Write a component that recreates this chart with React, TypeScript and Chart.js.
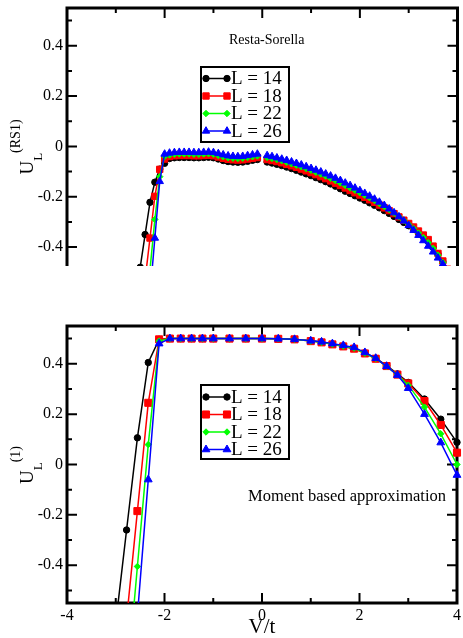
import React, { useEffect, useRef } from "react";
import { Chart, registerables } from "chart.js";
import { drawPoint } from "chart.js/helpers";

Chart.register(...registerables);

const FONT = "'Liberation Serif', 'Times New Roman', serif";

const seriesLabels = ["L = 14", "L = 18", "L = 22", "L = 26"];
const seriesColors = ["#000000", "#ff0000", "#00ff00", "#0000ff"];
const seriesMarkers = ["circle", "rect", "rectRot", "triangle"];

const xMajorTicks = [-4, -2, 0, 2, 4];
const xTickLabels = ["-4", "-2", "0", "2", "4"];
const xMinorTicks = [-3, -1, 1, 3];
const yMajorTicks = [-0.4, -0.2, 0, 0.2, 0.4];
const yTickLabels = ["-0.4", "-0.2", "0", "0.2", "0.4"];
const yMinorTicks = [-0.5, -0.3, -0.1, 0.1, 0.3, 0.5];

// ---------- Top panel (Resta-Sorella) ----------
const vTop = [
  -2.6, -2.5, -2.4, -2.3, -2.2, -2.1, -2.0,
  -1.9, -1.8, -1.7, -1.6, -1.5, -1.4, -1.3, -1.2, -1.1, -1.0,
  -0.9, -0.8, -0.7, -0.6, -0.5, -0.4, -0.3, -0.2, -0.1,
  0,
  0.1, 0.2, 0.3, 0.4, 0.5, 0.6, 0.7, 0.8, 0.9, 1.0,
  1.1, 1.2, 1.3, 1.4, 1.5, 1.6, 1.7, 1.8, 1.9, 2.0,
  2.1, 2.2, 2.3, 2.4, 2.5, 2.6, 2.7, 2.8, 2.9, 3.0,
  3.1, 3.2, 3.3, 3.4, 3.5, 3.6, 3.7, 3.8, 3.9, 4.0,
];
const topL14 = [
  null, -0.48, -0.35, -0.222, -0.142, -0.09, -0.067,
  -0.048, -0.045, -0.044, -0.044, -0.044, -0.045, -0.045, -0.044, -0.043, -0.045,
  -0.05, -0.056, -0.06, -0.062, -0.063, -0.062, -0.059, -0.055, -0.052,
  null,
  -0.062, -0.066, -0.071, -0.076, -0.082, -0.088, -0.095, -0.102, -0.109, -0.116,
  -0.124, -0.132, -0.14, -0.149, -0.158, -0.168, -0.178, -0.187, -0.196, -0.205,
  -0.214, -0.224, -0.234, -0.244, -0.255, -0.266, -0.278, -0.29, -0.302, -0.315,
  -0.329, -0.344, -0.36, -0.378, -0.4, -0.427, -0.458, -0.492, -0.528, -0.566,
];
const topL18 = [
  null, null, -0.53, -0.364, -0.198, -0.091, -0.05,
  -0.04, -0.037, -0.036, -0.036, -0.036, -0.037, -0.037, -0.036, -0.035, -0.037,
  -0.042, -0.047, -0.051, -0.053, -0.054, -0.053, -0.05, -0.047, -0.044,
  null,
  -0.052, -0.056, -0.06, -0.065, -0.071, -0.077, -0.083, -0.09, -0.097, -0.104,
  -0.112, -0.12, -0.128, -0.137, -0.146, -0.155, -0.165, -0.175, -0.184, -0.193,
  -0.202, -0.212, -0.222, -0.233, -0.244, -0.255, -0.267, -0.28, -0.293, -0.306,
  -0.32, -0.336, -0.352, -0.37, -0.396, -0.425, -0.455, -0.488, -0.522, -0.558,
];
const topL22 = [
  null, null, null, -0.49, -0.29, -0.12, -0.04,
  -0.034, -0.031, -0.03, -0.03, -0.03, -0.031, -0.031, -0.03, -0.029, -0.031,
  -0.036, -0.041, -0.045, -0.047, -0.048, -0.047, -0.044, -0.041, -0.038,
  null,
  -0.044, -0.048, -0.052, -0.057, -0.063, -0.069, -0.075, -0.081, -0.088, -0.095,
  -0.103, -0.11, -0.118, -0.127, -0.136, -0.145, -0.155, -0.165, -0.174, -0.184,
  -0.194, -0.204, -0.215, -0.227, -0.239, -0.251, -0.265, -0.279, -0.294, -0.31,
  -0.326, -0.344, -0.362, -0.382, -0.405, -0.432, -0.461, -0.493, -0.527, -0.564,
];
const topL26 = [
  null, null, null, -0.59, -0.364, -0.139, -0.03,
  -0.026, -0.024, -0.023, -0.023, -0.023, -0.024, -0.024, -0.023, -0.022, -0.024,
  -0.028, -0.033, -0.037, -0.039, -0.04, -0.039, -0.036, -0.033, -0.03,
  null,
  -0.036, -0.04, -0.045, -0.05, -0.055, -0.061, -0.067, -0.073, -0.08, -0.087,
  -0.094, -0.101, -0.109, -0.117, -0.126, -0.135, -0.145, -0.155, -0.165, -0.175,
  -0.186, -0.197, -0.209, -0.221, -0.234, -0.248, -0.263, -0.279, -0.296, -0.314,
  -0.333, -0.353, -0.374, -0.396, -0.419, -0.443, -0.468, -0.498, -0.532, -0.57,
];

// ---------- Bottom panel (Moment based approximation) ----------
const vBottom = [
  -3.0, -2.778, -2.556, -2.333, -2.111, -1.889, -1.667, -1.444, -1.222, -1.0,
  -0.667, -0.333, 0, 0.333, 0.667, 1.0, 1.222, 1.444, 1.667, 1.889,
  2.111, 2.333, 2.556, 2.778, 3.0, 3.333, 3.667, 4.0,
];
const botL14 = [
  -0.63, -0.26, 0.106, 0.405, 0.497, 0.5, 0.5, 0.5, 0.5, 0.5,
  0.5, 0.5, 0.5, 0.499, 0.497, 0.491, 0.486, 0.478, 0.47, 0.461,
  0.443, 0.422, 0.393, 0.36, 0.326, 0.26, 0.18, 0.088,
];
const botL18 = [
  null, -0.615, -0.185, 0.245, 0.497, 0.5, 0.5, 0.5, 0.5, 0.5,
  0.5, 0.5, 0.5, 0.499, 0.497, 0.49, 0.485, 0.477, 0.469, 0.46,
  0.441, 0.42, 0.391, 0.357, 0.322, 0.252, 0.157, 0.047,
];
const botL22 = [
  null, -0.89, -0.405, 0.079, 0.49, 0.5, 0.5, 0.5, 0.5, 0.5,
  0.5, 0.5, 0.5, 0.499, 0.497, 0.49, 0.485, 0.478, 0.47, 0.462,
  0.442, 0.421, 0.39, 0.356, 0.315, 0.228, 0.122, 0.0,
];
const botL26 = [
  null, null, -0.6, -0.06, 0.48, 0.5, 0.5, 0.5, 0.5, 0.5,
  0.5, 0.5, 0.5, 0.499, 0.497, 0.491, 0.487, 0.48, 0.473, 0.465,
  0.445, 0.422, 0.39, 0.355, 0.303, 0.2, 0.087, -0.042,
];

const topSeries = [topL14, topL18, topL22, topL26];
const botSeries = [botL14, botL18, botL22, botL26];

// ---------- plugins ----------
const framePlugin = {
  id: "frame",
  beforeDatasetsDraw(chart: any, _a: any, o: any) {
    const { ctx, chartArea } = chart;
    const { left, right, top, bottom } = chartArea;
    const xs = chart.scales.x;
    const ys = chart.scales.y;
    ctx.save();
    ctx.strokeStyle = "#000";
    ctx.lineWidth = 3;
    ctx.beginPath();
    if (o.openBottom) {
      ctx.moveTo(left, bottom);
      ctx.lineTo(left, top);
      ctx.lineTo(right, top);
      ctx.lineTo(right, bottom);
    } else {
      ctx.rect(left, top, right - left, bottom - top);
    }
    ctx.stroke();
    ctx.lineWidth = 2;
    const major = 10;
    const minor = 5;
    const drawX = (v: number, len: number) => {
      const px = xs.getPixelForValue(v);
      ctx.beginPath();
      ctx.moveTo(px, top);
      ctx.lineTo(px, top + len);
      if (!o.openBottom) {
        ctx.moveTo(px, bottom);
        ctx.lineTo(px, bottom - len);
      }
      ctx.stroke();
    };
    const drawY = (v: number, len: number) => {
      const py = ys.getPixelForValue(v);
      if (py < top - 0.5 || py > bottom + 0.5) return;
      ctx.beginPath();
      ctx.moveTo(left, py);
      ctx.lineTo(left + len, py);
      ctx.moveTo(right, py);
      ctx.lineTo(right - len, py);
      ctx.stroke();
    };
    xMajorTicks.forEach((v) => drawX(v, major));
    xMinorTicks.forEach((v) => drawX(v, minor));
    yMajorTicks.forEach((v) => drawY(v, major));
    yMinorTicks.forEach((v) => drawY(v, minor));
    ctx.restore();
  },
};

const ulabelPlugin = {
  id: "ulabel",
  afterDraw(chart: any, _a: any, o: any) {
    const ctx = chart.ctx;
    ctx.save();
    ctx.fillStyle = "#000";
    ctx.textBaseline = "alphabetic";
    ctx.textAlign = "left";
    const mainF = `19px ${FONT}`;
    const subF = `13px ${FONT}`;
    const supF = `14px ${FONT}`;
    ctx.font = mainF;
    const wU = ctx.measureText("U").width;
    ctx.font = subF;
    const wL = ctx.measureText("L").width;
    ctx.font = supF;
    const wS = ctx.measureText(o.sup).width;
    const total = wU + wL + wS;
    ctx.translate(o.x, o.cy + total / 2);
    ctx.rotate(-Math.PI / 2);
    ctx.font = mainF;
    ctx.fillText("U", 0, 0);
    ctx.font = subF;
    ctx.fillText("L", wU, 9);
    ctx.font = supF;
    ctx.fillText(o.sup, wU + wL, -13);
    ctx.restore();
  },
};

const notePlugin = {
  id: "note",
  afterDraw(chart: any, _a: any, o: any) {
    const ctx = chart.ctx;
    ctx.save();
    ctx.fillStyle = "#000";
    ctx.font = `${o.size}px ${FONT}`;
    ctx.textAlign = "left";
    ctx.textBaseline = "middle";
    ctx.fillText(o.text, o.x, o.y);
    ctx.restore();
  },
};

const boxLegendPlugin = {
  id: "boxLegend",
  afterDraw(chart: any, _a: any, o: any) {
    const ctx = chart.ctx;
    ctx.save();
    ctx.fillStyle = "#fff";
    ctx.fillRect(o.left, o.top, o.width, o.height);
    ctx.lineWidth = 2;
    ctx.strokeStyle = "#000";
    ctx.strokeRect(o.left, o.top, o.width, o.height);
    chart.data.datasets.forEach((ds: any, i: number) => {
      const y = o.top + o.firstRow + i * o.rowGap;
      const x1 = o.left + 5;
      const x2 = o.left + 26;
      ctx.strokeStyle = ds.borderColor;
      ctx.lineWidth = ds.borderWidth;
      ctx.beginPath();
      ctx.moveTo(x1, y);
      ctx.lineTo(x2, y);
      ctx.stroke();
      ctx.fillStyle = ds.borderColor;
      ctx.strokeStyle = ds.borderColor;
      ctx.lineWidth = 1;
      const po = { pointStyle: ds.pointStyle, radius: ds.pointRadius, rotation: 0, borderWidth: 1 };
      drawPoint(ctx, po as any, x1, y);
      drawPoint(ctx, po as any, x2, y);
      ctx.fillStyle = "#000";
      ctx.font = `19px ${FONT}`;
      ctx.textAlign = "left";
      ctx.textBaseline = "middle";
      ctx.fillText(ds.label, o.left + 30, y + 1);
    });
    ctx.restore();
  },
};

function makeDatasets(xs: number[], series: (number | null)[][], radii: number[]) {
  return series.map((arr, i) => ({
    label: seriesLabels[i],
    data: xs.map((v, j) => ({ x: v, y: arr[j] })),
    borderColor: seriesColors[i],
    backgroundColor: seriesColors[i],
    pointBackgroundColor: seriesColors[i],
    pointBorderColor: seriesColors[i],
    pointStyle: seriesMarkers[i],
    pointRadius: radii[i],
    pointBorderWidth: 1,
    borderWidth: 1.5,
    spanGaps: false,
    tension: 0,
    order: 4 - i,
    clip: { left: 8, right: 8, top: 8, bottom: 0 },
  }));
}

function makeOptions(isBottom: boolean, yMin: number, yMax: number, extra: any) {
  return {
    responsive: false,
    animation: false,
    devicePixelRatio: 1,
    events: [],
    layout: {
      padding: isBottom
        ? { left: 0, right: 4, top: 26, bottom: 0 }
        : { left: 0, right: 4, top: 8, bottom: 24 },
    },
    plugins: {
      legend: { display: false },
      tooltip: { enabled: false },
      ...extra,
    },
    scales: {
      x: {
        type: "linear",
        min: -4,
        max: 4,
        grid: { display: false, drawTicks: false, tickLength: 0 },
        border: { display: false },
        ticks: {
          display: isBottom,
          color: "#000",
          font: { family: FONT, size: 16 },
          padding: 3,
          maxRotation: 0,
          autoSkip: false,
          callback: (v: number) => {
            const k = xMajorTicks.indexOf(v);
            return k >= 0 ? xTickLabels[k] : "";
          },
        },
        title: {
          display: isBottom,
          text: "V/t",
          color: "#000",
          font: { family: FONT, size: 21, lineHeight: 1 },
          padding: 0,
        },
        afterBuildTicks: (s: any) => {
          s.ticks = xMajorTicks.map((v) => ({ value: v }));
        },
        afterFit: (s: any) => {
          s.height = isBottom ? 35 : 0;
          s.paddingLeft = 0;
          s.paddingRight = 0;
        },
      },
      y: {
        type: "linear",
        min: yMin,
        max: yMax,
        grid: { display: false, drawTicks: false, tickLength: 0 },
        border: { display: false },
        ticks: {
          color: "#000",
          font: { family: FONT, size: 16 },
          padding: 4,
          autoSkip: false,
          callback: (v: number) => {
            const k = yMajorTicks.findIndex((t) => Math.abs(t - v) < 1e-9);
            return k >= 0 ? yTickLabels[k] : "";
          },
        },
        afterBuildTicks: (s: any) => {
          s.ticks = yMajorTicks.map((v) => ({ value: v }));
        },
        afterFit: (s: any) => {
          s.width = 67;
          s.paddingTop = 0;
          s.paddingBottom = 0;
        },
      },
    },
  };
}

export default function App() {
  const topRef = useRef<HTMLCanvasElement | null>(null);
  const botRef = useRef<HTMLCanvasElement | null>(null);

  useEffect(() => {
    const plugins = [framePlugin, ulabelPlugin, notePlugin, boxLegendPlugin];
    const topChart = new Chart(topRef.current as HTMLCanvasElement, {
      type: "line",
      data: { datasets: makeDatasets(vTop, topSeries, [3.2, 4.5, 3.2, 4.3]) as any },
      options: makeOptions(false, -0.475, 0.55, {
        frame: { openBottom: true },
        ulabel: { sup: "(RS1)", x: 33, cy: 147 },
        note: { text: "Resta-Sorella", x: 229, y: 40, size: 14 },
        boxLegend: { left: 201, top: 67, width: 88, height: 75, firstRow: 11.5, rowGap: 17.5 },
      }) as any,
      plugins: plugins as any,
    });
    const botChart = new Chart(botRef.current as HTMLCanvasElement, {
      type: "line",
      data: { datasets: makeDatasets(vBottom, botSeries, [3.2, 5, 3.2, 4.5]) as any },
      options: makeOptions(true, -0.55, 0.55, {
        frame: { openBottom: false },
        ulabel: { sup: "(1)", x: 33, cy: 165 },
        note: { text: "Moment based approximation", x: 248, y: 197, size: 16.5 },
        boxLegend: { left: 201, top: 85, width: 88, height: 74, firstRow: 12, rowGap: 17.5 },
      }) as any,
      plugins: plugins as any,
    });
    return () => {
      topChart.destroy();
      botChart.destroy();
    };
  }, []);

  return (
    <div style={{ position: "fixed", left: 0, top: 0, width: 463, height: 638, background: "#fff" }}>
      <canvas
        ref={topRef}
        width={463}
        height={290}
        style={{ position: "absolute", left: 0, top: 0, width: 463, height: 290 }}
      />
      <canvas
        ref={botRef}
        width={463}
        height={338}
        style={{ position: "absolute", left: 0, top: 300, width: 463, height: 338 }}
      />
    </div>
  );
}
